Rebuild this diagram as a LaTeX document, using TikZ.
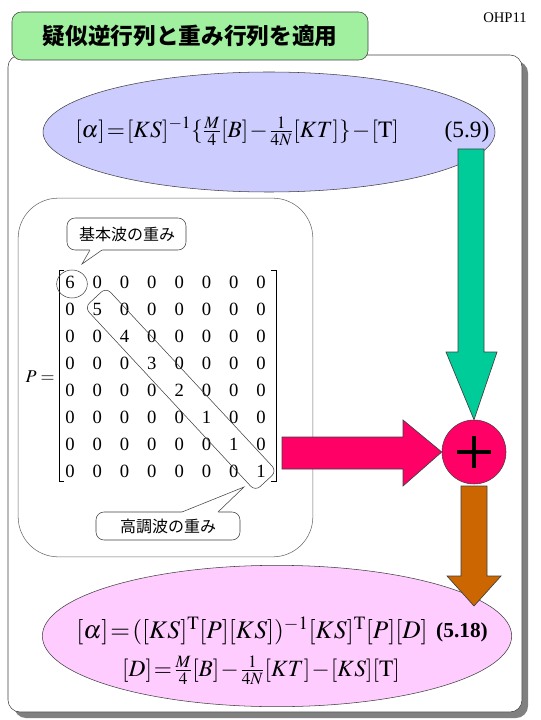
\documentclass[tikz,border=0pt]{standalone}
\usepackage{amsmath}
\usepackage{mathptmx}
\usepackage{fontspec}
\setmainfont{Liberation Serif}
\newfontfamily\cjk{Noto Sans CJK JP}
\usetikzlibrary{shapes.geometric}
\definecolor{titlegreen}{HTML}{A0F0A0}
\definecolor{blueell}{HTML}{CCCCFF}
\definecolor{pinkell}{HTML}{FFCCFF}
\definecolor{arrgreen}{HTML}{00CC99}
\definecolor{arrpink}{HTML}{FF0066}
\definecolor{arrbrown}{HTML}{CC6600}
\definecolor{edge}{HTML}{404040}
\newcommand{\tightmath}{\medmuskip=1mu\thickmuskip=1.5mu\thinmuskip=0.5mu}
\begin{document}
\begin{tikzpicture}[x=0.75pt,y=-0.75pt,
  eqfont/.style={font=\fontsize{17.5}{20}\selectfont\tightmath},
  digit/.style={font=\fontsize{14}{16}\selectfont, inner sep=0pt},
  callout/.style={draw=edge, fill=white, rounded corners=6pt},
  jptext/.style={font=\cjk\fontsize{12}{14}\selectfont},
  blockarrow/.style={draw=edge, line width=0.5pt}]
\useasboundingbox (0,0) rectangle (540,720);
% main panel with shadow
\fill[black!50, rounded corners=9pt] (14,61) rectangle (528,718);
\draw[fill=white, draw=edge, rounded corners=9pt] (8,55) rectangle (522,712);
% title
\node[draw=edge, fill=titlegreen, rounded corners=7pt, minimum width=267pt, minimum height=36pt,
      font=\cjk\bfseries\fontsize{17}{20}\selectfont] (title) at (190,36) {疑似逆行列と重み行列を適用};
\node[font=\fontsize{11}{12}\selectfont] (ohp) at (505,18) {OHP11};
% blue ellipse
\node[ellipse, draw=edge, fill=blueell, minimum width=339pt, minimum height=90pt] (e1) at (269,132) {};
\node[eqfont] (eq1) at (237,131) {$[\alpha]=[KS]^{-1}\{\tfrac{M}{4}[B]-\tfrac{1}{4N}[KT]\}-[\mathrm{T}]$};
\node[eqfont] (n59) at (467,132) {(5.9)};
% matrix container
\node[draw=black!60, rounded corners=30pt, minimum width=221pt, minimum height=269pt] (pbox) at (165.5,377.5) {};
% matrix
\foreach \r in {0,...,7}{
  \foreach \c in {0,...,7}{
    \pgfmathtruncatemacro\v{\r==\c ? (\r<5 ? 6-\r : 1) : 0}
    \node[digit] (m\r\c) at ({70+27.3*\c},{282+27*\r}) {\v};
  }
}
\draw (64,270) -- (59,270) -- (59,481) -- (64,481);
\draw (271,270) -- (276,270) -- (276,481) -- (271,481);
\node[font=\fontsize{13.5}{16}\selectfont] (peq) at (40,377) {$P=$};
% circle around 6 and diagonal band
\node[ellipse, draw=edge, minimum width=23pt, minimum height=21pt] (c6) at (72,284) {};
\node[draw=edge, rounded corners=5pt, minimum width=188pt, minimum height=22pt, rotate=-47.1] (band) at (180.7,389.3) {};
% callout 1
\draw[callout] (67,218) rectangle (186,250);
\fill[white] (103,248) -- (102,250) -- (82,264) -- (90,250) -- (89,248) -- cycle;
\draw[edge] (102,250) -- (82,264) -- (90,250);
\node[jptext] (cl1) at (127,234) {基本波の重み};
% callout 2
\draw[callout] (96,512) rectangle (240,540);
\fill[white] (181,514) -- (182,512) -- (244,487) -- (218,512) -- (219,514) -- cycle;
\draw[edge] (182,512) -- (244,487) -- (218,512);
\node[jptext] (cl2) at (168,526) {高調波の重み};
% pink ellipse
\node[ellipse, draw=edge, fill=pinkell, minimum width=352pt, minimum height=106pt] (e2) at (277,636) {};
\node[eqfont, font=\fontsize{19}{21}\selectfont\tightmath] (eq2) at (252,631) {$[\alpha]=([KS]^{\mathrm{T}}[P][KS])^{-1}[KS]^{\mathrm{T}}[P][D]$};
\node[font=\fontsize{16}{18}\selectfont\bfseries] (n518) at (462,632) {(5.18)};
\node[eqfont] (eq3) at (261,670) {$[D]=\tfrac{M}{4}[B]-\tfrac{1}{4N}[KT]-[KS][\mathrm{T}]$};
% plus circle
\node[circle, draw=edge, fill=arrpink, minimum size=48pt] (plus) at (474,452) {};
\draw[line width=3pt] ([xshift=-12.5pt]plus.center) -- ([xshift=12.5pt]plus.center);
\draw[line width=3pt] ([yshift=-12pt]plus.center) -- ([yshift=12pt]plus.center);
% block arrows
\draw[blockarrow, fill=arrgreen] (458,149) -- (484,149) -- (484,352) -- (497,352) -- (plus.north) -- (446,352) -- (458,352) -- cycle;
\draw[blockarrow, fill=arrpink] (282,437) -- (403,437) -- (403,420) -- (plus.west) -- (403,486) -- (403,469) -- (282,469) -- cycle;
\draw[blockarrow, fill=arrbrown] (461,486) -- (487,486) -- (487,576) -- (501,576) -- (474,606) -- (447,576) -- (461,576) -- cycle;
\end{tikzpicture}
\end{document}
